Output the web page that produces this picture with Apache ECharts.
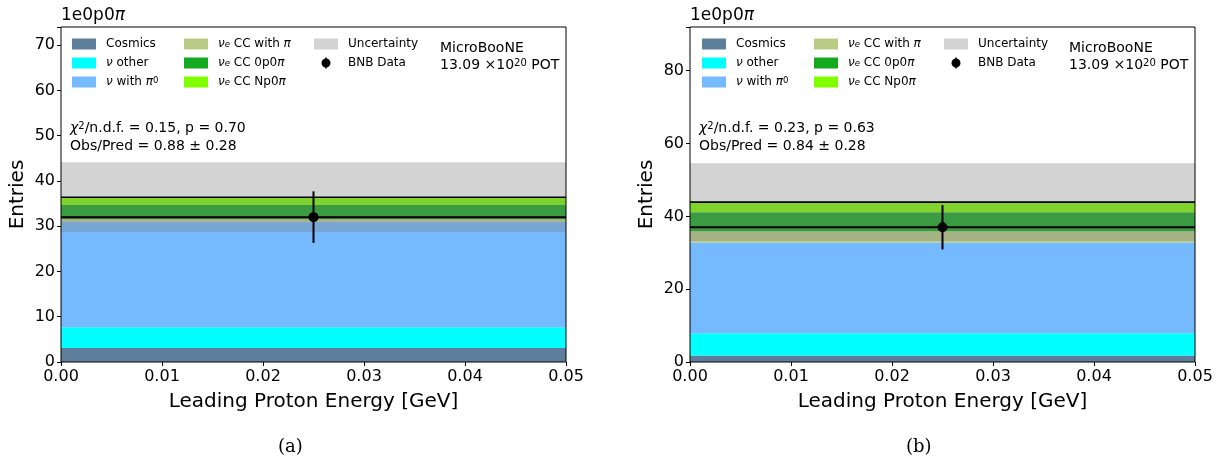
<!DOCTYPE html>
<html>
<head>
<meta charset="utf-8">
<script src="https://cdn.jsdelivr.net/npm/echarts@6/dist/echarts.min.js"></script>
<style>
  html, body { margin: 0; padding: 0; background: #fff; }
  #chart { width: 1221px; height: 466px; }
</style>
</head>
<body>
<div id="chart"></div>
<script>
// Single bin, leading proton energy [GeV]
const binEdges = [0.00, 0.05];
const xTicks = [0.00, 0.01, 0.02, 0.03, 0.04, 0.05];

// Stack components, bottom to top
const components = ['Cosmics', 'ν other', 'ν with π0', 'νe CC with π', 'νe CC 0p0π', 'νe CC Np0π'];

// Predicted entries per component (panel a / panel b)
const predA = [3.1, 4.6, 23.3, 0.6, 3.1, 1.7];
const predB = [1.8, 6.1, 24.9, 3.1, 5.2, 2.8];

// Prediction uncertainty
const uncA = [7.7];
const uncB = [10.7];

// BNB data and its error
const dataA = [32];
const dataErrA = [5.7];
const dataB = [37];
const dataErrB = [6.1];

// Axis ranges and ticks
const yTicksA = [0, 10, 20, 30, 40, 50, 60, 70];
const yTicksB = [0, 20, 40, 60, 80];
const yMaxA = 74;
const yMaxB = 92;

// Fit summary text
const statsA = ['0.15', '0.70', '0.88', '0.28'];
const statsB = ['0.23', '0.63', '0.84', '0.28'];

const palette = ['#5e7f9c', '#00ffff', '#75b9ff', '#b9cc86', '#15a922', '#80ff00'];
const bandColor = 'rgba(128,128,128,0.35)';
const FONT = 'DejaVu Sans';

const chart = echarts.init(document.getElementById('chart'), null, { renderer: 'canvas' });

function rectItem(params, api) {
  const p0 = api.coord([api.value(0), api.value(3)]);
  const p1 = api.coord([api.value(1), api.value(2)]);
  return {
    type: 'rect',
    shape: { x: p0[0], y: p0[1], width: p1[0] - p0[0], height: p1[1] - p0[1] },
    style: { fill: api.visual('color') }
  };
}

function outlineItem(params, api) {
  const a = api.coord([api.value(0), api.value(2)]);
  const b = api.coord([api.value(1), api.value(2)]);
  return {
    type: 'line',
    shape: { x1: a[0], y1: a[1], x2: b[0], y2: b[1] },
    style: { stroke: '#000', lineWidth: 1.6 }
  };
}

function dataItem(params, api) {
  const x0 = api.value(0), x1 = api.value(1), y = api.value(2), e = api.value(3);
  const xc = (x0 + x1) / 2;
  const l = api.coord([x0, y]);
  const r = api.coord([x1, y]);
  const top = api.coord([xc, y + e]);
  const bot = api.coord([xc, y - e]);
  return {
    type: 'group',
    children: [
      { type: 'line', shape: { x1: l[0], y1: l[1], x2: r[0], y2: r[1] }, style: { stroke: '#000', lineWidth: 2 } },
      { type: 'line', shape: { x1: top[0], y1: top[1], x2: bot[0], y2: bot[1] }, style: { stroke: '#000', lineWidth: 2 } },
      { type: 'circle', shape: { cx: top[0], cy: l[1], r: 5 }, style: { fill: '#000' } }
    ]
  };
}

function panelSeries(idx, pred, unc, data, dataErr) {
  const out = [];
  let cum = 0;
  pred.forEach((v, i) => {
    out.push({
      type: 'custom', name: components[i], xAxisIndex: idx, yAxisIndex: idx,
      color: palette[i], renderItem: rectItem, z: 2,
      encode: { x: [0, 1], y: [2, 3] },
      data: [[binEdges[0], binEdges[1], cum, cum + v]]
    });
    cum += v;
  });
  const total = cum;
  out.push({
    type: 'custom', name: 'Uncertainty', xAxisIndex: idx, yAxisIndex: idx,
    color: bandColor, renderItem: rectItem, z: 3,
    encode: { x: [0, 1], y: [2, 3] },
    data: [[binEdges[0], binEdges[1], total - unc[0], total + unc[0]]]
  });
  out.push({
    type: 'custom', name: 'prediction', xAxisIndex: idx, yAxisIndex: idx,
    renderItem: outlineItem, z: 4,
    encode: { x: [0, 1], y: 2 },
    data: [[binEdges[0], binEdges[1], total]]
  });
  out.push({
    type: 'custom', name: 'BNB Data', xAxisIndex: idx, yAxisIndex: idx,
    color: '#000', renderItem: dataItem, z: 5,
    encode: { x: [0, 1], y: 2 },
    data: [[binEdges[0], binEdges[1], data[0], dataErr[0]]]
  });
  return out;
}

const richLegend = {
  it: { fontFamily: FONT, fontSize: 12, fontStyle: 'italic', color: '#000', lineHeight: 11 },
  n: { fontFamily: FONT, fontSize: 12, color: '#000', lineHeight: 11 },
  sub: { fontFamily: FONT, fontSize: 8.5, fontStyle: 'italic', color: '#000', lineHeight: 4, verticalAlign: 'bottom' },
  sup: { fontFamily: FONT, fontSize: 8.5, color: '#000', lineHeight: 4, verticalAlign: 'top' }
};

const legendLabel = {
  'Cosmics': '{n|Cosmics}',
  'ν other': '{it|ν}{n| other}',
  'ν with π0': '{it|ν}{n| with }{it|π}{sup|0}',
  'νe CC with π': '{it|ν}{sub|e}{n| CC with }{it|π}',
  'νe CC 0p0π': '{it|ν}{sub|e}{n| CC 0p0}{it|π}',
  'νe CC Np0π': '{it|ν}{sub|e}{n| CC Np0}{it|π}',
  'Uncertainty': '{n|Uncertainty}',
  'BNB Data': '{n|BNB Data}'
};

// error-bar handle: vertical bar with a dot, padded to the full handle box
const dataIcon = 'path://M0,0H0.01V0.01H0Z M23.99,10.99H24V11H23.99Z M11.2,0H12.8V11H11.2Z M16.5,5.5A4.5,4.5,0,1,1,7.5,5.5A4.5,4.5,0,1,1,16.5,5.5Z';

function legendCols(left0) {
  const cols = [
    { dx: 0, names: components.slice(0, 3) },
    { dx: 112, names: components.slice(3, 6) },
    { dx: 242, names: ['Uncertainty', 'BNB Data'] }
  ];
  return cols.map(c => ({
    left: left0 + c.dx, top: 38, orient: 'vertical', padding: 0,
    itemWidth: 24, itemHeight: 11, itemGap: 7,
    selectedMode: false,
    data: c.names.map(n => n === 'BNB Data' ? { name: n, icon: dataIcon } : { name: n, icon: 'rect' }),
    formatter: n => legendLabel[n],
    textStyle: { padding: [0, 0, 0, 5], rich: richLegend }
  }));
}

function gridOf(left) {
  return { left: left, width: 505, top: 27, height: 335, show: true, borderColor: '#000', borderWidth: 1, z: 10 };
}

function xAxisOf(idx) {
  return {
    type: 'value', gridIndex: idx, min: binEdges[0], max: binEdges[1], interval: 0.01,
    name: 'Leading Proton Energy [GeV]', nameLocation: 'middle', nameGap: 30,
    nameTextStyle: { fontFamily: FONT, fontSize: 20, color: '#000' },
    axisLine: { show: false },
    axisTick: { show: true, inside: false, length: 4, lineStyle: { color: '#000', width: 1 } },
    axisLabel: { fontFamily: FONT, fontSize: 16, color: '#000', margin: 7,
      formatter: v => (xTicks.some(t => Math.abs(t - v) < 1e-9) ? v.toFixed(2) : '') },
    splitLine: { show: false }, z: 10
  };
}

function yAxisOf(idx, ticks, yMax) {
  return {
    type: 'value', gridIndex: idx, min: ticks[0], max: yMax, interval: ticks[1] - ticks[0],
    name: 'Entries', nameLocation: 'middle', nameGap: 33,
    nameTextStyle: { fontFamily: FONT, fontSize: 20, color: '#000' },
    axisLine: { show: false },
    axisTick: { show: true, inside: false, length: 4, lineStyle: { color: '#000', width: 1 } },
    axisLabel: { fontFamily: FONT, fontSize: 16, color: '#000', margin: 6,
      formatter: v => (ticks.indexOf(v) >= 0 ? String(v) : '') },
    splitLine: { show: false }, z: 10
  };
}

function panelText(left, stats, caption, captionX) {
  const base = { fontFamily: FONT, fontSize: 14, fill: '#000' };
  const supStyle = { fontFamily: FONT, fontSize: 10, verticalAlign: 'top', lineHeight: 10 };
  return [
    { type: 'text', left: left, top: 7, style: { text: '1e0p0{it|π}', fontFamily: FONT, fontSize: 17, fill: '#000',
        rich: { it: { fontFamily: FONT, fontSize: 17, fontStyle: 'italic' } } } },
    { type: 'text', left: left + 379, top: 41, style: Object.assign({}, base, { text: 'MicroBooNE' }) },
    { type: 'text', left: left + 379, top: 58, style: Object.assign({}, base, {
        text: '13.09 ×10{sup|20} POT', rich: { sup: supStyle } }) },
    { type: 'text', left: left + 9, top: 121, style: Object.assign({}, base, {
        text: '{it|χ}{sup|2}/n.d.f. = ' + stats[0] + ', p = ' + stats[1],
        rich: { it: { fontFamily: FONT, fontSize: 14, fontStyle: 'italic' }, sup: supStyle } }) },
    { type: 'text', left: left + 9, top: 139, style: Object.assign({}, base, {
        text: 'Obs/Pred = ' + stats[2] + ' ± ' + stats[3] }) },
    { type: 'text', left: captionX, top: 438, style: { text: caption, fontFamily: 'DejaVu Serif', fontSize: 18, fill: '#000' } }
  ];
}

const option = {
  animation: false,
  backgroundColor: '#fff',
  grid: [gridOf(61), gridOf(690)],
  xAxis: [xAxisOf(0), xAxisOf(1)],
  yAxis: [yAxisOf(0, yTicksA, yMaxA), yAxisOf(1, yTicksB, yMaxB)],
  legend: legendCols(72).concat(legendCols(702)),
  series: panelSeries(0, predA, uncA, dataA, dataErrA).concat(panelSeries(1, predB, uncB, dataB, dataErrB)),
  graphic: panelText(61, statsA, '(a)', 278).concat(panelText(690, statsB, '(b)', 906))
};

chart.setOption(option);
</script>
</body>
</html>
